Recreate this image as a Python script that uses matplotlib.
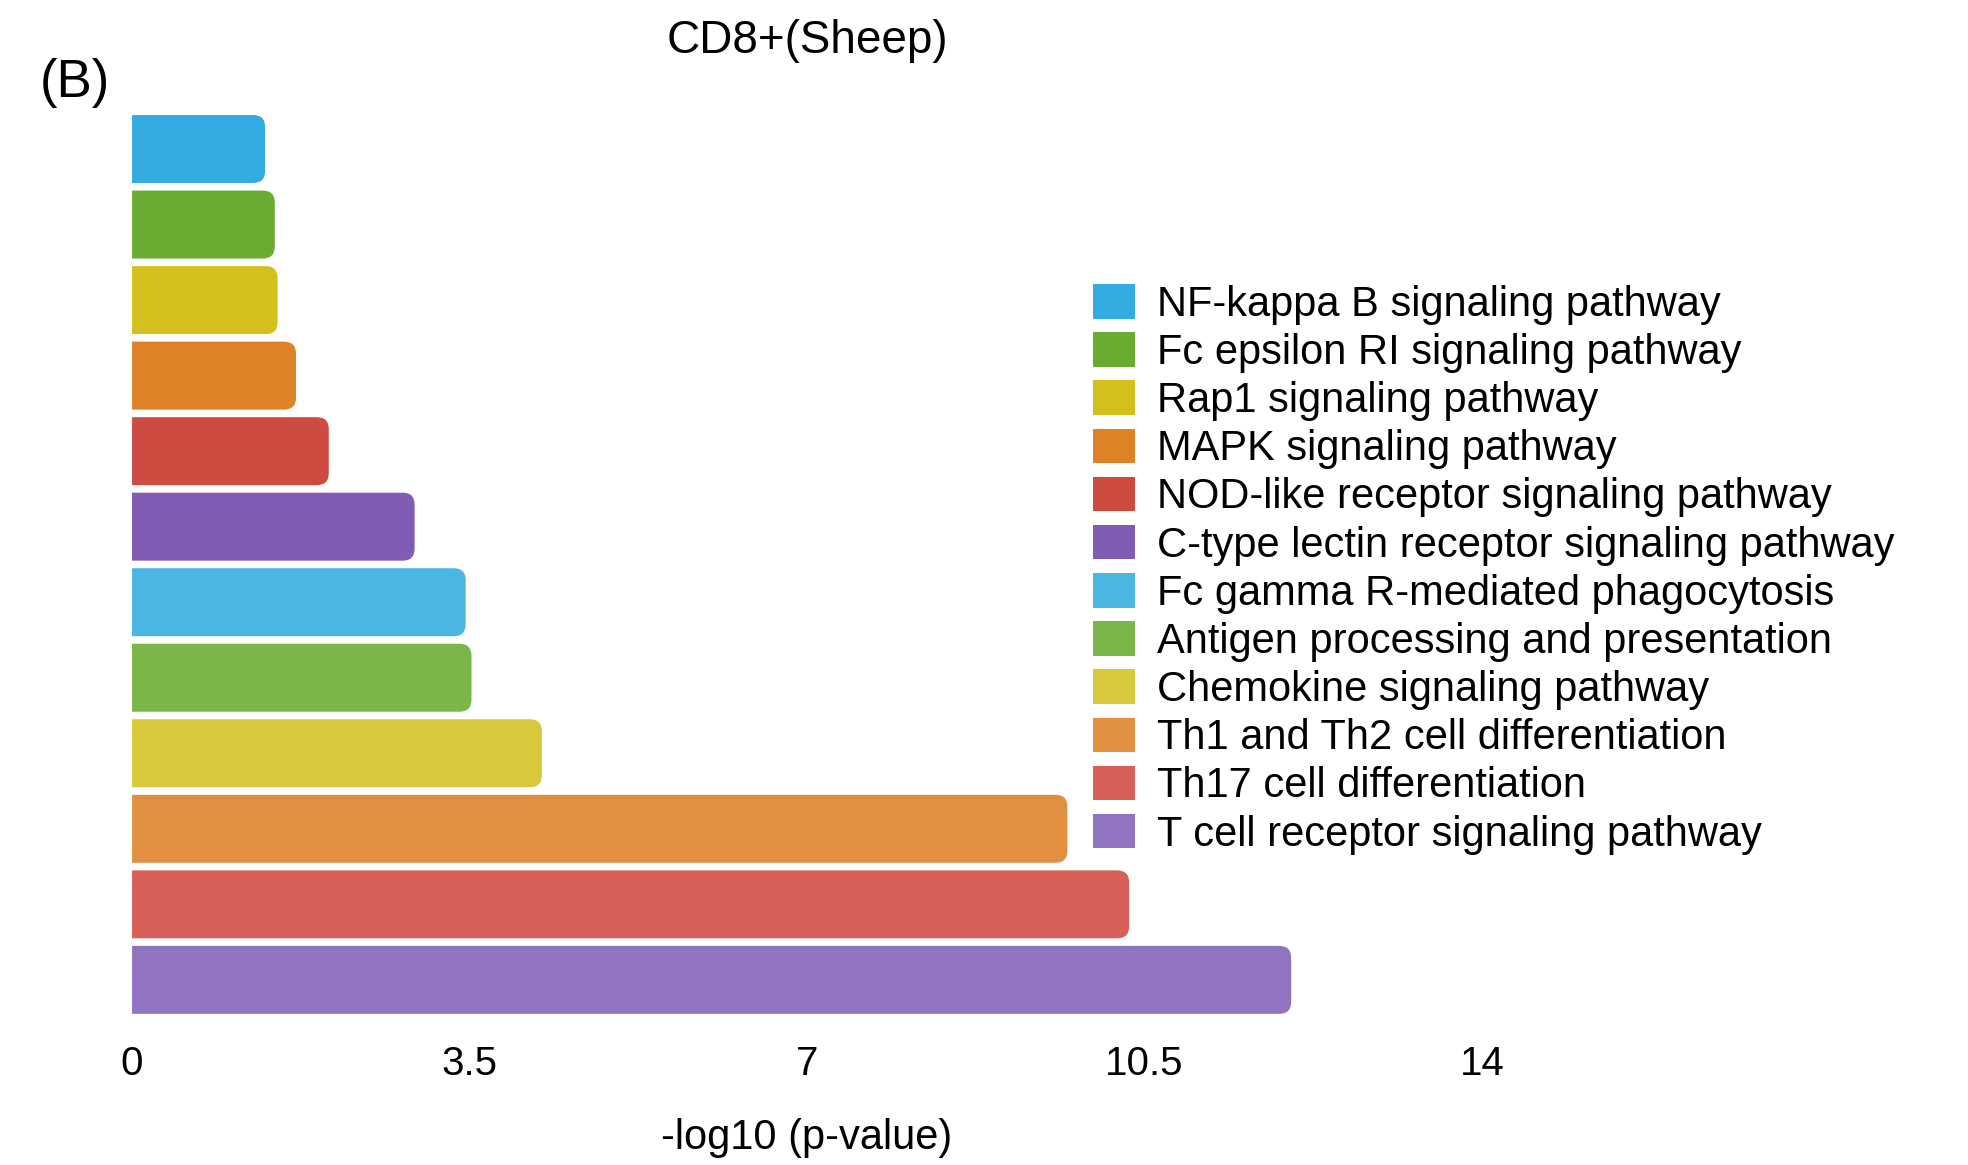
import numpy as np
import matplotlib
matplotlib.use('Agg')
import matplotlib.pyplot as plt
from matplotlib.patches import PathPatch, Rectangle
from matplotlib.path import Path

plt.rcParams['font.family'] = ['Liberation Sans', 'DejaVu Sans']

pathways = [
    'NF-kappa B signaling pathway',
    'Fc epsilon RI signaling pathway',
    'Rap1 signaling pathway',
    'MAPK signaling pathway',
    'NOD-like receptor signaling pathway',
    'C-type lectin receptor signaling pathway',
    'Fc gamma R-mediated phagocytosis',
    'Antigen processing and presentation',
    'Chemokine signaling pathway',
    'Th1 and Th2 cell differentiation',
    'Th17 cell differentiation',
    'T cell receptor signaling pathway',
]
neg_log_p = [1.38, 1.48, 1.51, 1.70, 2.04, 2.93, 3.46, 3.52, 4.25, 9.70, 10.34, 12.02]
colors = ['#34abe0', '#6aac32', '#d4c01c', '#de8228', '#cd4b41', '#805cb4',
          '#4ab6e4', '#7ab648', '#d8c83c', '#e09040', '#d66058', '#9074c0']
xticks = [0, 3.5, 7, 10.5, 14]
xticklabels = ['0', '3.5', '7', '10.5', '14']


def right_rounded(x0, y0, w, h, rx, ry):
    x1, y1 = x0 + w, y0 + h
    verts = [(x0, y0), (x1 - rx, y0), (x1, y0), (x1, y0 + ry),
             (x1, y1 - ry), (x1, y1), (x1 - rx, y1), (x0, y1), (x0, y0)]
    codes = [Path.MOVETO, Path.LINETO, Path.CURVE3, Path.CURVE3,
             Path.LINETO, Path.CURVE3, Path.CURVE3, Path.LINETO, Path.CLOSEPOLY]
    return Path(verts, codes)


fig = plt.figure(figsize=(19.68, 11.65), dpi=100)
ax = fig.add_axes([0.0671, 0.1265, 0.686, 0.778])

# first pathway on top
ypos = np.arange(len(pathways))[::-1]
bars = ax.barh(ypos, neg_log_p, height=0.9, color=colors, label=pathways)

ax.set_xlim(0, 14)
ax.set_ylim(-0.5, len(pathways) - 0.5)

# swap each bar for one with a rounded right end
px_x = ax.bbox.width / 14
px_y = ax.bbox.height / len(pathways)
rx, ry = 12 / px_x, 12 / px_y
for b in bars:
    b.set_visible(False)
    ax.add_patch(PathPatch(right_rounded(b.get_x(), b.get_y(), b.get_width(),
                                         b.get_height(), rx, ry),
                           facecolor=b.get_facecolor(), edgecolor='none'))

for s in ax.spines.values():
    s.set_visible(False)
ax.set_yticks([])
ax.set_xticks(xticks)
ax.set_xticklabels(xticklabels)
ax.tick_params(axis='x', length=0, labelsize=29, pad=20)
ax.set_xlabel('-log10 (p-value)', fontsize=30, labelpad=25)
ax.set_title('CD8+(Sheep)', fontsize=33, pad=42)

handles = [Rectangle((0, 0), 1, 1, facecolor=c, edgecolor='none') for c in colors]
fig.legend(handles, pathways, loc='upper left', bbox_to_anchor=(0.5554, 0.7562),
           frameon=False, fontsize=30, handlelength=1.0, handleheight=0.9,
           handletextpad=0.54, labelspacing=0.18, borderpad=0, borderaxespad=0)

fig.text(0.038, 0.929, '(B)', fontsize=38, ha='center', va='center')

fig.savefig('out.png', dpi=100)
